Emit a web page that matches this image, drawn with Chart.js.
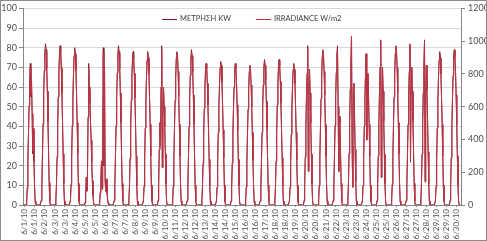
<!DOCTYPE html>
<html>
<head>
<meta charset="utf-8">
<script src="https://cdn.jsdelivr.net/npm/chart.js@4.4.0/dist/chart.umd.min.js"></script>
<style>
    html, body { margin: 0; padding: 0; background: #fff; }
    #wrap { width: 487px; height: 241px; }
</style>
</head>
<body>
<div id="wrap"><canvas id="chart" width="487" height="241"></canvas></div>
<script>
// Μετρήσεις Ιουνίου 2010, ωριαίες τιμές 06:00-20:00 ανά ημέρα (τη νύχτα 0)
const seriesNames = ['ΜΕΤΡΗΣΗ KW', 'IRRADIANCE W/m2'];
const firstHour = 6;

const kwByDay = [
    [1, 8, 22, 36, 50, 63, 72, 55, 63, 46, 26, 38, 22, 9, 2],
    [2, 10, 25, 41, 56, 68, 78, 82, 79, 70, 58, 43, 27, 11, 2],
    [2, 10, 24, 40, 55, 67, 77, 81, 78, 70, 57, 42, 26, 11, 2],
    [2, 10, 24, 40, 54, 66, 76, 80, 77, 69, 57, 42, 26, 11, 2],
    [1, 5, 14, 7, 16, 45, 72, 60, 52, 42, 33, 22, 12, 5, 1],
    [1, 6, 13, 22, 8, 30, 80, 20, 70, 12, 7, 13, 6, 3, 1],
    [2, 10, 24, 40, 55, 67, 77, 81, 78, 70, 57, 42, 26, 11, 2],
    [2, 9, 23, 39, 53, 65, 74, 78, 75, 67, 55, 41, 25, 10, 2],
    [2, 9, 23, 39, 53, 65, 74, 78, 75, 67, 55, 41, 25, 10, 2],
    [2, 10, 28, 42, 30, 60, 81, 19, 45, 60, 50, 40, 26, 11, 2],
    [2, 9, 23, 39, 53, 65, 75, 78, 76, 68, 56, 41, 25, 10, 2],
    [2, 10, 24, 40, 54, 66, 75, 79, 76, 68, 56, 41, 25, 10, 2],
    [2, 9, 21, 36, 49, 60, 69, 72, 70, 62, 51, 38, 23, 10, 2],
    [2, 9, 22, 37, 50, 61, 70, 73, 71, 63, 52, 38, 24, 10, 2],
    [2, 9, 21, 36, 49, 60, 69, 72, 70, 62, 51, 38, 23, 10, 2],
    [2, 9, 21, 36, 49, 59, 68, 71, 69, 61, 50, 37, 23, 10, 2],
    [2, 9, 22, 37, 50, 61, 70, 74, 71, 64, 53, 39, 24, 10, 2],
    [2, 9, 22, 37, 51, 62, 71, 74, 71, 63, 52, 38, 24, 10, 2],
    [2, 9, 21, 36, 49, 60, 69, 72, 69, 62, 51, 37, 23, 10, 2],
    [2, 10, 24, 40, 55, 67, 81, 17, 60, 69, 57, 42, 26, 11, 2],
    [2, 10, 24, 40, 54, 66, 76, 79, 76, 68, 56, 41, 25, 10, 2],
    [2, 10, 24, 40, 55, 67, 77, 81, 50, 17, 45, 42, 26, 11, 2],
    [2, 11, 26, 43, 59, 72, 86, 30, 9, 60, 62, 46, 28, 12, 2],
    [2, 10, 24, 40, 54, 66, 77, 33, 60, 67, 55, 41, 25, 10, 2],
    [2, 10, 25, 42, 57, 70, 84, 14, 50, 70, 58, 43, 26, 11, 2],
    [2, 10, 24, 40, 55, 67, 77, 81, 78, 70, 57, 42, 26, 11, 2],
    [2, 10, 25, 41, 56, 68, 82, 22, 60, 70, 58, 43, 27, 11, 2],
    [2, 11, 26, 42, 57, 70, 84, 12, 55, 71, 59, 44, 27, 11, 2],
    [2, 9, 23, 39, 53, 65, 74, 78, 75, 67, 55, 41, 25, 10, 2],
    [2, 10, 24, 40, 54, 66, 76, 79, 76, 68, 56, 41, 25, 10, 2]
];

const irrByDay = [
    [20, 110, 280, 440, 610, 750, 840, 680, 760, 560, 330, 470, 280, 120, 20],
    [30, 130, 310, 500, 670, 820, 930, 960, 930, 830, 690, 510, 320, 140, 25],
    [30, 130, 300, 490, 660, 810, 920, 950, 920, 830, 680, 500, 310, 130, 25],
    [30, 130, 300, 490, 650, 800, 910, 940, 910, 820, 670, 500, 310, 130, 25],
    [20, 60, 170, 90, 190, 530, 840, 700, 620, 500, 390, 260, 150, 60, 15],
    [20, 80, 160, 270, 110, 370, 930, 250, 830, 150, 90, 160, 80, 40, 10],
    [30, 130, 300, 490, 660, 810, 920, 950, 920, 830, 680, 500, 310, 130, 25],
    [30, 120, 290, 470, 640, 780, 880, 920, 890, 800, 650, 490, 300, 120, 25],
    [30, 120, 290, 470, 640, 780, 880, 920, 890, 800, 650, 490, 300, 120, 25],
    [30, 130, 340, 500, 360, 720, 950, 230, 540, 720, 600, 480, 310, 130, 25],
    [30, 120, 290, 470, 640, 780, 890, 930, 900, 810, 660, 490, 300, 120, 25],
    [30, 120, 290, 480, 650, 790, 890, 930, 900, 810, 670, 490, 300, 120, 25],
    [25, 110, 260, 430, 590, 720, 820, 860, 830, 740, 610, 450, 280, 120, 20],
    [25, 110, 270, 440, 600, 730, 830, 870, 840, 750, 620, 460, 290, 120, 20],
    [25, 110, 260, 430, 590, 720, 820, 860, 830, 740, 610, 450, 280, 120, 20],
    [25, 110, 260, 430, 580, 710, 810, 850, 820, 730, 600, 440, 270, 120, 20],
    [25, 110, 270, 440, 600, 730, 840, 880, 850, 760, 630, 460, 290, 120, 20],
    [25, 110, 270, 440, 610, 740, 840, 880, 850, 750, 620, 460, 290, 120, 20],
    [25, 110, 260, 430, 590, 720, 820, 860, 820, 740, 610, 440, 280, 120, 20],
    [30, 130, 300, 490, 660, 800, 960, 210, 720, 820, 680, 500, 310, 130, 25],
    [30, 120, 290, 480, 650, 790, 900, 940, 900, 810, 670, 490, 300, 120, 25],
    [30, 130, 300, 490, 660, 810, 920, 950, 600, 210, 540, 500, 310, 130, 25],
    [30, 140, 320, 520, 710, 860, 1030, 360, 110, 720, 740, 550, 340, 140, 25],
    [30, 120, 290, 480, 650, 790, 920, 400, 720, 800, 660, 490, 300, 120, 25],
    [30, 130, 300, 500, 680, 840, 1000, 170, 600, 840, 690, 510, 310, 130, 25],
    [30, 130, 300, 490, 660, 800, 920, 960, 930, 830, 680, 500, 310, 130, 25],
    [30, 130, 300, 490, 670, 810, 970, 260, 720, 840, 690, 510, 320, 130, 25],
    [30, 130, 310, 500, 680, 840, 1000, 140, 660, 850, 700, 520, 320, 130, 25],
    [30, 120, 290, 470, 640, 780, 880, 920, 890, 800, 650, 490, 300, 120, 25],
    [30, 120, 290, 480, 650, 790, 900, 940, 900, 810, 670, 490, 300, 120, 25]
];

// ετικέτες άξονα x όπως τις δείχνει το Excel (περίπου κάθε 16 ώρες)
const tickLabels = [
    '6/1/10', '6/1/10', '6/2/10', '6/3/10', '6/3/10', '6/4/10', '6/5/10', '6/5/10',
    '6/6/10', '6/7/10', '6/7/10', '6/8/10', '6/9/10', '6/9/10', '6/10/10', '6/11/10',
    '6/12/10', '6/12/10', '6/13/10', '6/14/10', '6/14/10', '6/15/10', '6/16/10', '6/16/10',
    '6/17/10', '6/18/10', '6/18/10', '6/19/10', '6/20/10', '6/20/10', '6/21/10', '6/22/10',
    '6/23/10', '6/23/10', '6/24/10', '6/25/10', '6/25/10', '6/26/10', '6/27/10', '6/27/10',
    '6/28/10', '6/29/10', '6/29/10', '6/30/10'
];

function toPoints(rows) {
    const pts = [];
    rows.forEach((row, d) => {
        for (let h = 0; h < 24; h++) {
            const i = h - firstHour;
            pts.push({ x: d * 24 + h, y: (i >= 0 && i < row.length) ? row[i] : 0 });
        }
    });
    return pts;
}

const totalHours = kwByDay.length * 24;
const tickStart = 3;
const tickStep = 16.5;

Chart.defaults.font.family = 'Lato, "Open Sans", sans-serif';
Chart.defaults.color = '#505050';

// λευκό φόντο + πλαίσιο γραφήματος
const frame = {
    id: 'frame',
    beforeDraw(chart) {
        const ctx = chart.ctx;
        ctx.save();
        ctx.fillStyle = '#fff';
        ctx.fillRect(0, 0, chart.width, chart.height);
        ctx.restore();
    },
    afterDraw(chart) {
        const ctx = chart.ctx;
        ctx.save();
        ctx.strokeStyle = '#8c8c8c';
        ctx.lineWidth = 1;
        ctx.strokeRect(0.5, 0.5, chart.width - 1, chart.height - 1);
        ctx.restore();
    }
};

// υπόμνημα μέσα στην περιοχή σχεδίασης, πάνω στο κέντρο
const insideLegend = {
    id: 'insideLegend',
    afterDraw(chart) {
        const ctx = chart.ctx;
        ctx.save();
        ctx.font = '7.5px Lato, "Open Sans", sans-serif';
        ctx.textBaseline = 'middle';
        let x = 162;
        const y = 19;
        chart.data.datasets.forEach(ds => {
            ctx.strokeStyle = ds.borderColor;
            ctx.lineWidth = 1;
            ctx.beginPath();
            ctx.moveTo(x, y + 0.5);
            ctx.lineTo(x + 15, y + 0.5);
            ctx.stroke();
            x += 18;
            ctx.fillStyle = '#404040';
            ctx.fillText(ds.label, x, y);
            x += ctx.measureText(ds.label).width + 25;
        });
        ctx.restore();
    }
};

new Chart(document.getElementById('chart'), {
    type: 'line',
    data: {
        datasets: [{
            label: seriesNames[0],
            data: toPoints(kwByDay),
            yAxisID: 'y',
            order: 1,
            borderColor: '#7d2030',
            borderWidth: 1,
            pointRadius: 0,
            tension: 0,
            fill: false,
        }, {
            label: seriesNames[1],
            data: toPoints(irrByDay),
            yAxisID: 'y1',
            order: 0,
            borderColor: '#bc3444',
            borderWidth: 1,
            pointRadius: 0,
            tension: 0,
            fill: false,
        }],
    },
    options: {
        responsive: false,
        animation: false,
        layout: { padding: { top: 5, left: 0, right: 0, bottom: 0 } },
        plugins: {
            legend: { display: false },
            tooltip: { enabled: false },
        },
        scales: {
            x: {
                type: 'linear',
                min: 0,
                max: totalHours,
                afterBuildTicks: axis => {
                    axis.ticks = tickLabels.map((_, i) => ({ value: tickStart + i * tickStep }));
                },
                afterFit: scale => { scale.height = 36; },
                ticks: {
                    autoSkip: false,
                    maxRotation: 90,
                    minRotation: 90,
                    padding: 2,
                    font: { size: 8 },
                    callback: (value, index) => tickLabels[index],
                },
                grid: { display: true, drawOnChartArea: false, drawTicks: true, tickLength: 2, tickColor: '#868686' },
                border: { display: true, color: '#868686' },
            },
            y: {
                position: 'left',
                min: 0,
                max: 100,
                afterFit: scale => { scale.width = 23; },
                ticks: { stepSize: 10, padding: 2, font: { size: 9 } },
                grid: { color: '#d9d9d9', tickLength: 4, tickColor: '#868686' },
                border: { color: '#868686' },
            },
            y1: {
                position: 'right',
                min: 0,
                max: 1200,
                afterFit: scale => { scale.width = 26; },
                ticks: { stepSize: 200, padding: 3, font: { size: 9 }, callback: v => String(v) },
                grid: { drawOnChartArea: false, tickLength: 4, tickColor: '#868686' },
                border: { color: '#868686' },
            },
        },
    },
    plugins: [frame, insideLegend],
});
</script>
</body>
</html>
